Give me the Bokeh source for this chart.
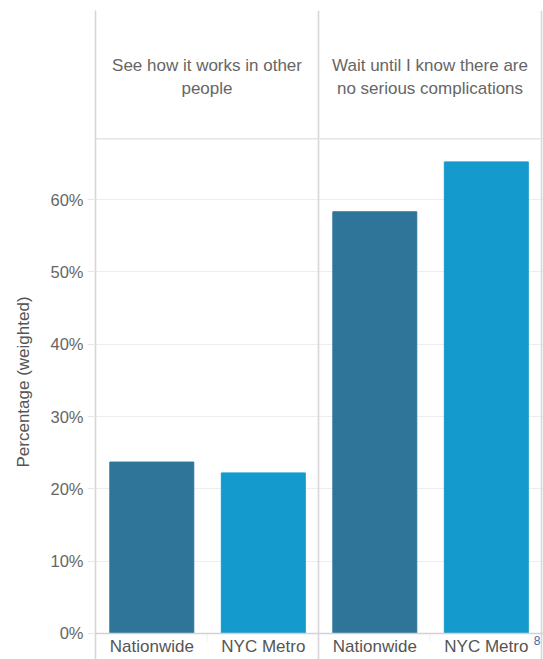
from bokeh.core.properties import value
from bokeh.embed import file_html
from bokeh.models import (ColumnDataSource, FixedTicker, Label, PrintfTickFormatter,
                          Range1d, Span, Title)
from bokeh.plotting import figure
from bokeh.resources import INLINE

# ---- data -------------------------------------------------------------
panels = ["See how it works in other\npeople",
          "Wait until I know there are\nno serious complications"]
groups = ["Nationwide", "NYC Metro"]
pct_see_how = [23.7, 22.2]        # % (weighted) per group
pct_wait_until = [58.3, 65.2]
y_ticks = [0, 10, 20, 30, 40, 50, 60]

# ---- layout helpers ----------------------------------------------------
FONT = "Liberation Sans"
TEXT = "#666666"
DARK, LIGHT = "#2e7599", "#149acc"
RULE = "#d6d6d6"
PLOT_TOP = 68.4          # top of the bar region (header band sits above)

xs, tops, colors, labels = [], [], [], []
for pi_, vals in enumerate([pct_see_how, pct_wait_until]):
    for gi, v in enumerate(vals):
        xs.append(pi_ * 2 + gi + 0.505)
        tops.append(v)
        colors.append(DARK if gi == 0 else LIGHT)
        labels.append(groups[gi])

bars = ColumnDataSource(dict(x=xs, top=tops, color=colors, label=labels))

p = figure(width=543, height=659, output_backend="svg", toolbar_location=None,
           x_range=Range1d(0, 4 * 448 / 446), y_range=Range1d(-3.595, 86.13),
           min_border_left=95, min_border_right=0, min_border_top=10,
           min_border_bottom=0, outline_line_color=None)
p.background_fill_color = "white"
p.border_fill_color = "white"

# grid & axes
p.xgrid.visible = False
p.ygrid.grid_line_color = "#eeeeee"
p.ygrid.grid_line_width = 1
p.xaxis.visible = False
ax = p.yaxis[0]
ax.ticker = FixedTicker(ticks=y_ticks)
ax.formatter = PrintfTickFormatter(format="%d%%")
ax.axis_line_color = RULE
ax.axis_line_width = 1.6
ax.major_tick_out = 8
ax.major_tick_in = 0
ax.major_tick_line_color = "#e6e6e6"
ax.minor_tick_line_color = None
ax.major_label_standoff = 4
ax.major_label_text_font = FONT
ax.major_label_text_font_size = "16.5px"
ax.major_label_text_color = TEXT

# y-axis title, centred on the bar region rather than on the whole frame
p.add_layout(Title(text="Percentage (weighted)", align="left", vertical_align="top",
                   offset=192, standoff=26, text_font=FONT, text_font_size="17px",
                   text_font_style="normal", text_color="#555555"), "left")

# panel rules
p.add_layout(Span(location=2, dimension="height", line_color=RULE, line_width=1.6))
p.add_layout(Span(location=4, dimension="height", line_color=RULE, line_width=1.6))
p.add_layout(Span(location=PLOT_TOP, dimension="width", line_color="#e4e4e4", line_width=1.4))
p.add_layout(Span(location=0, dimension="width", line_color="#d2d2d2", line_width=1.4))
p.segment(x0=[1, 3], y0=[0, 0], x1=[1, 3], y1=[-1.1, -1.1], line_color="#eeeeee", line_width=1)

# bars
p.vbar(x="x", top="top", bottom=0, width=0.753, color="color", source=bars)

# category labels under each bar
p.text(x="x", y=-1.8, text="label", source=bars, text_align="center",
       text_baseline="middle", text_font=value(FONT), text_font_size="17px",
       text_color="#555555")

# panel headers
p.text(x=[1, 3], y=[76.9, 76.9], text=panels, text_align="center",
       text_baseline="middle", text_font=value(FONT), text_font_size="17px",
       text_color=TEXT, text_line_height=1.2)

# page number
p.add_layout(Label(x=3.93, y=-0.97, text="8", text_align="left", text_baseline="middle",
                   text_font=FONT, text_font_size="12px", text_color="#4d6a94"))

open("out.html", "w").write(file_html(p, INLINE))
